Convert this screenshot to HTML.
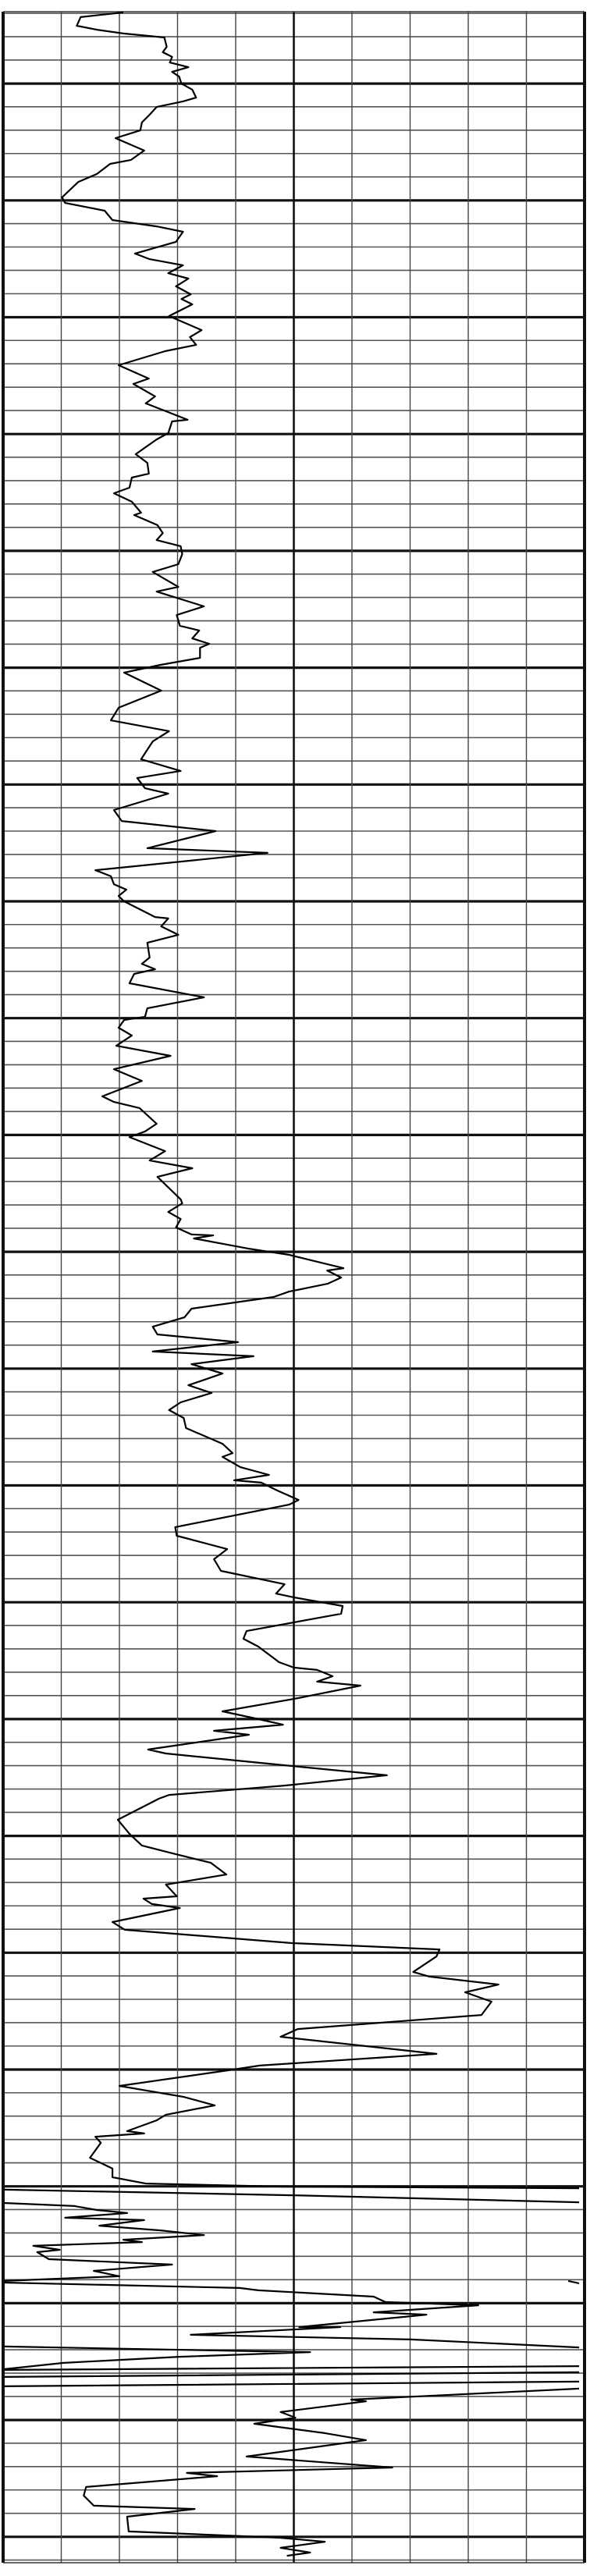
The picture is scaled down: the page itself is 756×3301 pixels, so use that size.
<!DOCTYPE html>
<html><head><meta charset="utf-8"><title>Well log curve</title>
<style>
html,body{margin:0;padding:0;background:#fff;}
svg{display:block;}
</style></head>
<body>
<svg id="log" width="756" height="3301" viewBox="0 0 756 3301" xmlns="http://www.w3.org/2000/svg">
<rect x="0" y="0" width="756" height="3301" fill="#fff"/>
<g id="grid"></g>
<g id="curve"></g>
</svg>
<script>
// depth (ft below top of interval); null breaks the trace (scale wrap)
const depths = [0.3,2.3,6,7.7,9.3,11,15,17.3,19.3,21.7,23.7,25.7,27.7,30.7,33.3,36.7,38.3,40.7,44,47.3,50.7,54,59.3,63.3,65,69.3,72.7,79.3,81.7,85,89,91.7,94,98.3,103.3,105.7,108.3,111.7,114,117.3,120.7,122.7,125,130,136,139,142.3,145,151,156.7,159,164.3,167.3,174.3,175,180,182.7,189,192.7,197.3,199,203.3,205.7,209.3,214,215,219.3,222.7,225.7,228.3,231.7,236,239.3,245.7,247.7,254,257.7,262.3,264.3,267.7,270,271.7,276,279,282.3,290,297.3,302.7,307.3,311.7,319.3,324.3,327.3,331.7,334,341,345.7,350,357.3,359.3,366.7,369.3,372.7,375,377.7,380,386.7,387.3,390.7,394.3,397.7,404,406.7,409,411,415,421,425.7,429.3,430.7,434,437.3,441.7,446,451.7,456.7,463.3,465.7,468.3,475,478.3,480.7,486.7,490.7,494,497.7,507.3,509,512.7,515.7,519.3,522.3,522.7,524,528.3,531,536.7,537.7,540.7,543.3,546.7,549,554,557.7,561.7,565,568.3,572.3,574.3,577.7,581.7,586.7,590,594,597.3,600.7,605,611.7,615.7,617.3,621.7,625,627.3,628.3,631.7,635.7,637.7,647.3,651,656.7,661,666,671.7,675.7,677.3,681,684.3,691.7,695,698.3,705,707.3,708.3,711,713.3,715,720.7,726,729,731.7,734.3,736,742.3,744,749.3,753.3,757.7,761.7,763.3,772.3,778.3,783.3,786.7,790.7,795.7,800,805,806,808.3,810,816,819.3,825,827.7,830.7,837.3,839.3,842.7,846,850,855.7,861.7,865,872.3,877.3,879.3,886,890.7,894.3,898.3,900.7,905.3,906.3,907.7,910.3,916.7,921.3,925,927.7,929,929.7,
null,930.3,932.7,935.7,
null,936,937.3,939,940.3,942.3,943.3,945.7,947.7,949.7,951.7,952.7,954.3,956,957,960,962.3,965,967.3,969.3,
null,969.3,970.3,
null,970,972.3,973.3,976,978.3,979.7,982.7,983.7,989,989,992.3,994.3,997.7,
null,997.3,999.3,999.7,1001.7,1004.3,1007,
null,1007.3,1005.7,
null,1010.3,1008.3,
null,1014.3,1012.3,
null,1015.3,1020,1020.7,1025.3,1027.7,1030.3,1034.3,1037.3,1044.3,1049,1051.3,1052.7,1057.3,1061,1065.3,1066.7,1070,1076.3,1079,1080.7,1083.3,1085.3,1086.7];
// gamma-ray style value, scale 0-150
const values = [31,20,19,24.2,31,41.6,42.2,41.2,43.6,43,47.8,43.6,45.4,46,48.8,49.8,46.4,39.6,37.8,35.8,35.4,29,36.4,33,27.6,24.2,19.4,15.2,16,26.2,28.2,39.6,46.4,44.6,34,37.8,46.4,42.6,47.8,44.6,48.4,46,48.8,42.8,51.2,48.2,49.8,41.8,29.8,37.6,33.6,39.2,36.8,47.6,43.6,42.6,39.6,34.2,37.2,37.6,33.2,32.6,28.6,33.2,35.6,33.8,39.8,41.2,39.6,45.8,46.2,45.2,38.6,45.2,39.6,51.8,44.8,45.6,50.6,48.8,53.2,50.8,50.8,40.6,31.2,40.8,29.8,27.8,42.8,38.6,35.6,45.8,34.6,36.6,42.6,28.6,30.6,54.8,37.2,68.2,23.8,27.8,28.6,31.8,29.8,31.2,39.2,42.6,40.8,45.2,37.2,37.8,35.8,39.2,33.8,32.6,51.8,37.2,36.6,31.2,29.8,33.2,29.2,43.2,28.6,35.8,25.6,28.6,35.2,39.6,36.6,32.6,41.8,37.8,48.8,39.8,45.8,46.2,42.6,45.8,44.6,48.6,54.2,49.2,63.2,73.8,87.8,83.6,87.2,83.8,73.8,69.8,48.6,46.8,38.6,39.8,60.6,38.6,64.6,48.6,56.6,47.8,53.8,45.8,42.8,46.6,47.2,56.6,59.2,56.6,61.2,68.6,59.6,66.6,70.8,76.2,73.8,44.4,44.8,57.8,54.4,56.2,72.6,70.4,75,87.6,87.2,62.8,62,65.8,71.2,75,81,85,81,92.2,75,56.6,65,72.2,54.4,63.4,37.4,42,74.2,99,72.6,42.8,40.2,29.6,32.6,35.8,43.8,53.6,57.6,42,44.8,36.2,38.4,45.6,28.2,31.4,74.6,112.6,111.8,105.8,110,127.8,119.2,126,123.4,76,71.6,111.8,66.2,58.2,30,46.6,54.6,42,39.6,32,36.4,23.8,25.2,22.4,28.2,28.2,36.8,71.6,148.6,
null,0.2,74.4,148.6,
null,0.2,18.4,24.2,32,16,36.4,24.8,40.6,51.8,31,35.8,7.8,14.6,8.8,11.8,43.6,23.4,30,0.2,
null,145.8,148.6,
null,0.2,61,65.8,95.6,98.6,122.6,95.6,109.2,76.4,87,48.4,105.2,148.6,
null,0.2,64.8,79.2,45.4,15.6,0.2,
null,0.2,148.6,
null,0.2,148.6,
null,0.2,148.6,
null,148.6,89.8,93.6,71.6,75.4,64.8,83,93.6,62.8,100.4,47.4,55.2,21.4,20.8,23.4,49.4,32,32.4,71.6,83,71.6,79.2,73.2];
const xTicks = [0,15,30,45,60,75,90,105,120,135,150];
const majorDepths = [30.7,80.6,130.5,180.4,230.3,280.2,330.1,380,429.9,479.8,529.7,579.6,629.5,679.4,729.3,779.2,829.1,879,928.9,978.8,1028.7,1078.6];

const NS = 'http://www.w3.org/2000/svg';
const L = 4, R = 749, TOP = 15, BOT = 3284;
function xScale(v){ return L + v * (R - L) / 150; }
function yScale(d){ return TOP + d * 3; }
function line(g, x1, y1, x2, y2, w, c){
  const e = document.createElementNS(NS, 'line');
  e.setAttribute('x1', x1); e.setAttribute('y1', y1);
  e.setAttribute('x2', x2); e.setAttribute('y2', y2);
  e.setAttribute('stroke', c); e.setAttribute('stroke-width', w);
  g.appendChild(e);
  return e;
}
const grid = document.getElementById('grid');
// minor depth lines every 10 ft
for (let d = majorDepths[0] - 30; d <= (BOT - TOP) / 3; d += 9.98) {
  const y = yScale(d);
  if (y < TOP + 1) continue;
  const e = line(grid, L, y, R, y, 1.6, '#555');
  
  
}
majorDepths.forEach(d => {
  const y = yScale(d);
  const e = line(grid, L, y, R, y, 3.2, '#111');
  
  
});
xTicks.forEach((t, i) => {
  const x = xScale(t);
  const edge = (i === 0 || i === xTicks.length - 1);
  const mid = (i === 5);
  const e = line(grid, x, TOP, x, BOT, edge ? 4 : (mid ? 2.6 : 1.4), edge || mid ? '#111' : '#444');
  
  
});
const top1 = line(grid, L, TOP, R, TOP, 1.6, '#333');


const bot1 = line(grid, L, BOT, R, BOT, 1.6, '#333');



// curve
const curveG = document.getElementById('curve');
let dstr = '', pen = false;
for (let i = 0; i < depths.length; i++) {
  if (depths[i] === null || values[i] === null) { pen = false; continue; }
  const x = xScale(values[i]).toFixed(1), y = yScale(depths[i]).toFixed(1);
  dstr += (pen ? 'L' : 'M') + x + ' ' + y + ' ';
  pen = true;
}
const p = document.createElementNS(NS, 'path');
p.setAttribute('d', dstr);
p.setAttribute('fill', 'none');
p.setAttribute('stroke', '#000');
p.setAttribute('stroke-width', '2.2');
p.setAttribute('stroke-linejoin', 'round');


curveG.appendChild(p);
</script>
</body></html>
